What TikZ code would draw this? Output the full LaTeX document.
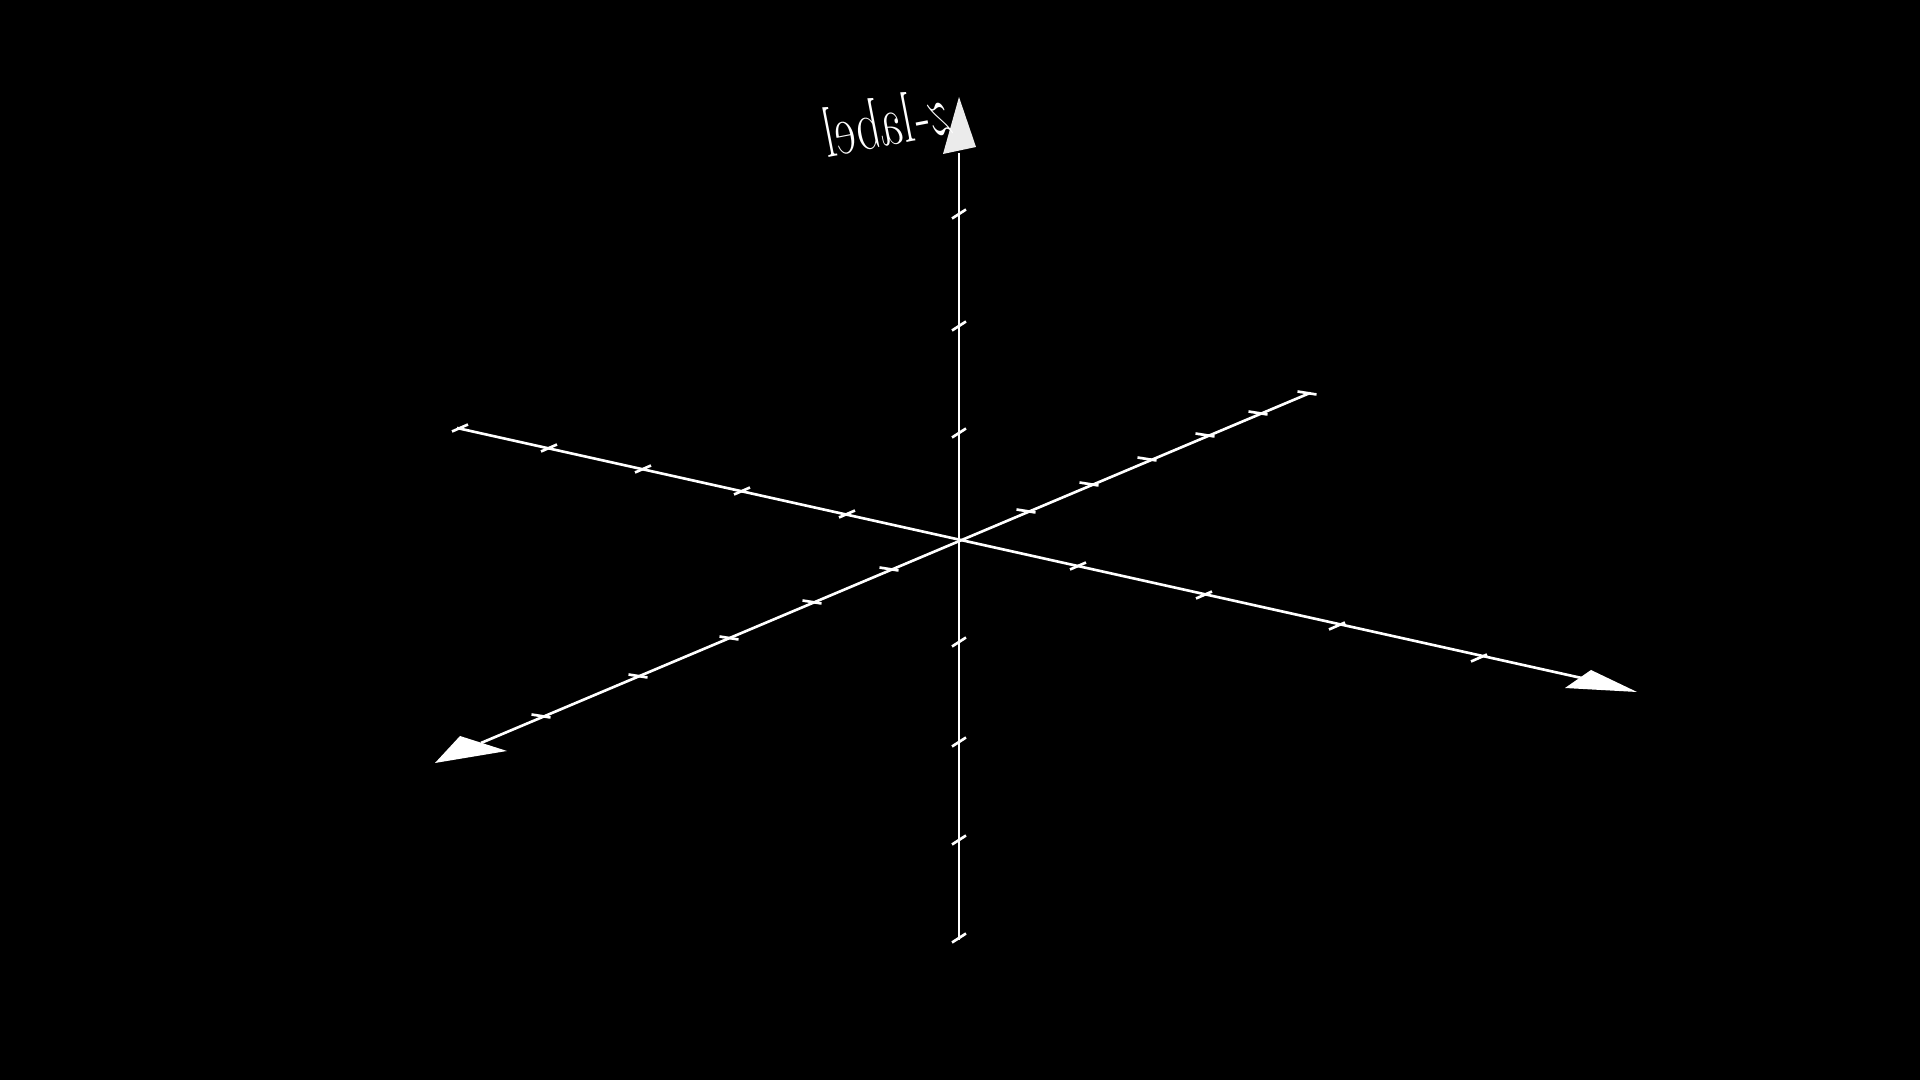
\documentclass[tikz,border=0pt]{standalone}
\begin{document}
\begin{tikzpicture}[x=0.01cm,y=-0.01cm]
                \fill[black] (0,0) rectangle (1920,1080);
                \useasboundingbox (0,0) rectangle (1920,1080);
                \tikzset{axis/.style={draw=white,line width=0.75pt},
                         tick/.style={draw=white,line width=0.75pt},
                         tip/.style={fill=white}}
                \draw (959,539) coordinate (O);
                \draw (959,153) coordinate (ZT);
                \draw (959,940) coordinate (ZB);
                \draw (457,428) coordinate (XL);
                \draw (1595,681) coordinate (XR);
                \draw (1310,393) coordinate (YB);
                \draw (481,743) coordinate (YF);
                % axes
                \draw[axis] (ZB) -- (ZT);
                \draw[axis] (XL) -- (XR);
                \draw[axis] (YB) -- (YF);
                % arrow heads
                \fill[tip,color=white!92!black] (959,97) -- (943,154) -- (976,147) -- cycle;
                \fill[tip] (1637,692) -- (1565,688) -- (1591,670) -- cycle;
                \fill[tip] (435,763) -- (460,736) -- (507,751) -- cycle;
                % ticks
                \foreach \y in {214,326,433,642,742,840,938}
                    \draw[tick] (952,\y+4.5) -- (966,\y-4.5);
                \foreach \x/\y in {847/514,742/491,643/469,549/448,460/428,1078/566,1204/595,1337/626,1479/658}
                    \draw[tick] (\x-8,\y+3.5) -- (\x+8,\y-3.5);
                \foreach \x/\y in {1026/511,1089/484,1147/459,1205/435,1258/413,1307/393,889/569,812/602,729/638,638/676,541/716}
                    \draw[tick] (\x-9.5,\y-1.5) -- (\x+9.5,\y+1.5);
                % label
                \node[text=white,rotate=11,font=\fontsize{20.5}{24}\selectfont] (zlab) at (887,121) {\scalebox{-0.67}[1]{$z$-label}};
            \end{tikzpicture}
\end{document}
